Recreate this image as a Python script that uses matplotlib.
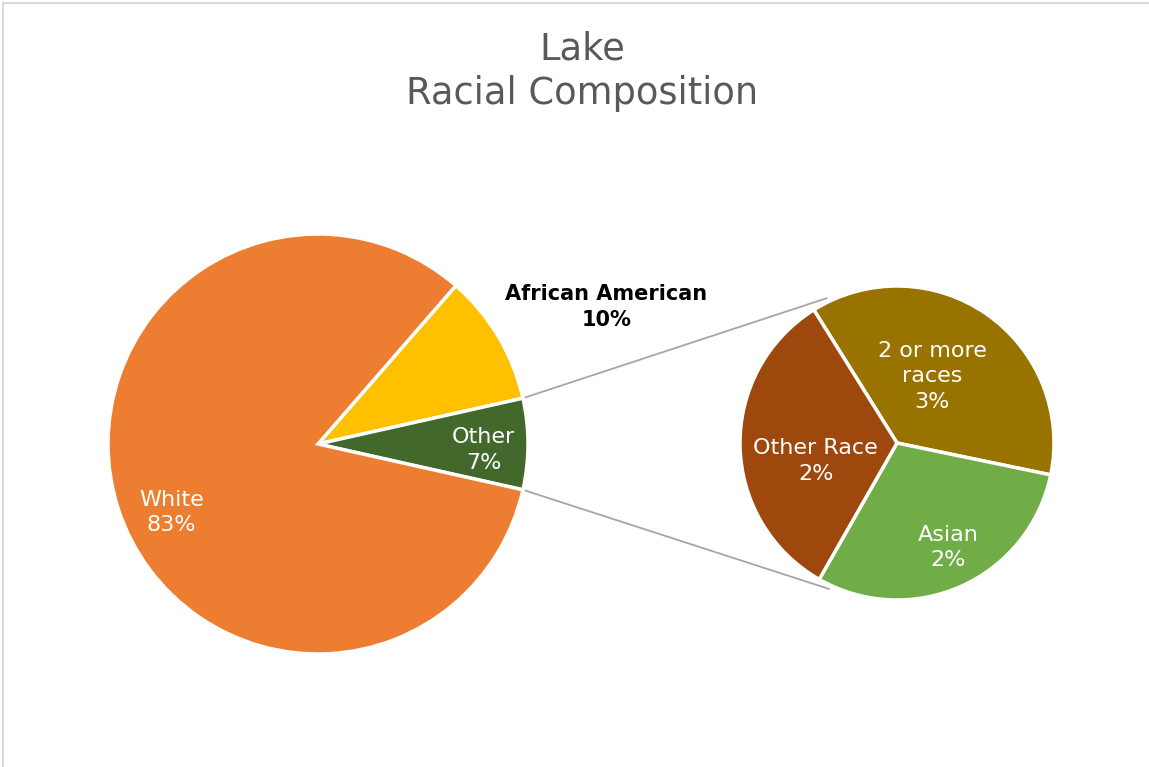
import numpy as np
import matplotlib
matplotlib.use("Agg")
import matplotlib.pyplot as plt
from matplotlib.lines import Line2D

# ---- data ----
main_labels = ["African American", "Other", "White"]
main_values = [10.1, 7.0, 82.9]
main_pct = ["10%", "7%", "83%"]
main_colors = ["#FFC000", "#43682B", "#ED7D31"]

sub_labels = ["2 or more\nraces", "Asian", "Other Race"]
sub_values = [2.6, 2.1, 2.3]
sub_pct = ["3%", "2%", "2%"]
sub_colors = ["#997300", "#70AD47", "#9E480E"]

title_text = "Lake\nRacial Composition"

FONT = ["DejaVu Sans"]

W, H = 1149, 767
fig = plt.figure(figsize=(W / 100, H / 100), dpi=100)
ax = fig.add_axes([0, 0, 1, 1])

# border (top and left visible)
fig.add_artist(Line2D([3 / W, 1], [1 - 3 / H, 1 - 3 / H], color="#D9D9D9", lw=1.5))
fig.add_artist(Line2D([3 / W, 3 / W], [0, 1 - 3 / H], color="#D9D9D9", lw=1.5))

# main pie
c1 = (318, H - 444)
r1 = 210
tot = sum(main_values)
start1 = 360 * (main_values[0] + main_values[1] / 2) / tot
w1, _ = ax.pie(main_values, colors=main_colors, startangle=start1, counterclock=False,
               radius=r1, center=c1, frame=True,
               wedgeprops=dict(edgecolor="white", linewidth=2.5))

# secondary pie
c2 = (897, H - 443)
r2 = 157
start2 = 122
w2, _ = ax.pie(sub_values, colors=sub_colors, startangle=start2, counterclock=False,
               radius=r2, center=c2, frame=True,
               wedgeprops=dict(edgecolor="white", linewidth=2.5))
ax.set_xlim(0, W)
ax.set_ylim(0, H)
ax.set_aspect("equal")
ax.axis("off")

# connector lines from the "Other" wedge edges to secondary pie
ow = w1[1]
for ang, ang2 in [(ow.theta2, 116), (ow.theta1, -115)]:
    x0 = c1[0] + r1 * np.cos(np.radians(ang))
    y0 = c1[1] + r1 * np.sin(np.radians(ang))
    x1 = c2[0] + (r2 + 4) * np.cos(np.radians(ang2))
    y1 = c2[1] + (r2 + 4) * np.sin(np.radians(ang2))
    ax.plot([x0, x1], [y0, y1], color="#A6A6A6", lw=1.3, zorder=0)

fs = 16
ls = 1.35
# main labels (angle, radial fraction)
main_pos = [(25.4, 1.52), (-2.0, 0.79), (205.0, 0.77)]
main_tc = ["black", "white", "white"]
main_fw = ["bold", "normal", "normal"]
for lab, pct, (a, d), tc, fw in zip(main_labels, main_pct, main_pos, main_tc, main_fw):
    x = c1[0] + r1 * d * np.cos(np.radians(a))
    y = c1[1] + r1 * d * np.sin(np.radians(a))
    ax.text(x, y, f"{lab}\n{pct}", ha="center", va="center", color=tc,
            fontsize=fs - (1 if fw == "bold" else 0),
            family=FONT, fontweight=fw, linespacing=ls)

sub_pos = [(62.0, 0.48), (-64.0, 0.74), (192.5, 0.53)]
for lab, pct, (a, d) in zip(sub_labels, sub_pct, sub_pos):
    x = c2[0] + r2 * d * np.cos(np.radians(a))
    y = c2[1] + r2 * d * np.sin(np.radians(a))
    ax.text(x, y, f"{lab}\n{pct}", ha="center", va="center", color="white", fontsize=fs,
            family=FONT, linespacing=ls)

ax.text(582, H - 71, title_text, ha="center", va="center", color="#595959",
        fontsize=26.5, family=FONT, linespacing=1.27)

fig.savefig("out.png", dpi=100)
